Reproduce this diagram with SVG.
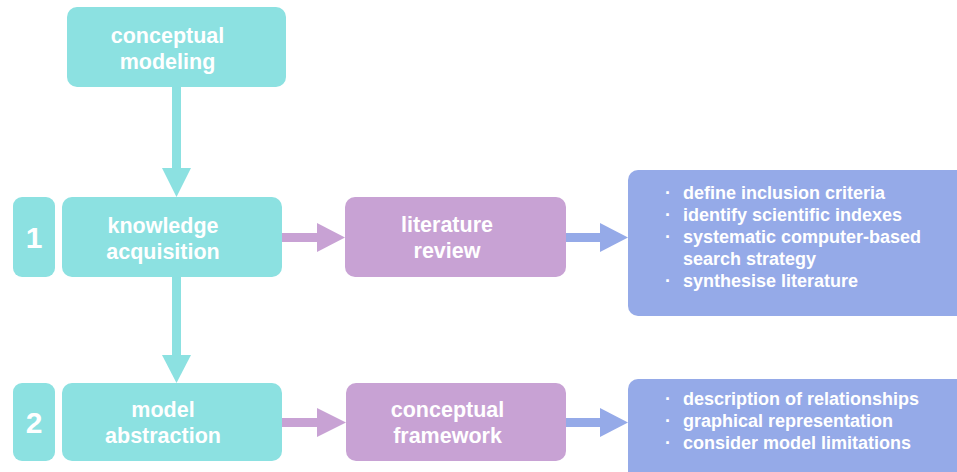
<svg xmlns="http://www.w3.org/2000/svg" width="957" height="472" viewBox="0 0 957 472">
<style>
.teal{fill:#8ce1e1}
.purp{fill:#c8a2d4}
.blue{fill:#95aae8}
.t{font-family:"Liberation Sans",Arial,sans-serif;font-weight:bold;fill:#fff;font-size:21.5px;text-anchor:middle}
.n{font-family:"Liberation Sans",Arial,sans-serif;font-weight:bold;fill:#fff;font-size:30px;text-anchor:middle}
.b{font-family:"Liberation Sans",Arial,sans-serif;font-weight:bold;fill:#fff;font-size:18px}
</style>
<rect width="957" height="472" fill="#fff"/>
<g id="connectors">
<rect class="teal" x="172" y="87" width="9" height="82"/>
<polygon class="teal" points="162,168 191,168 176.5,197"/>
<rect class="teal" x="172" y="277" width="9" height="79"/>
<polygon class="teal" points="162,355 191,355 176.5,383"/>
<rect class="purp" x="282" y="233" width="36" height="9"/>
<polygon class="purp" points="317,223 345,237.5 317,252"/>
<rect class="blue" x="566" y="233" width="35" height="9"/>
<polygon class="blue" points="600,223 628,237.5 600,252"/>
<rect class="purp" x="282" y="418" width="36" height="9"/>
<polygon class="purp" points="317,408 346,422.5 317,437"/>
<rect class="blue" x="566" y="418" width="35" height="9"/>
<polygon class="blue" points="600,408 628,422.5 600,437"/>
</g>
<g id="conceptual-modeling">
<rect class="teal" x="67" y="7" width="219" height="80" rx="10"/>
<text class="t" x="167.5" y="43">conceptual</text>
<text class="t" x="167.5" y="69">modeling</text>
</g>
<g id="step1">
<rect class="teal" x="13" y="197" width="42" height="80" rx="9"/>
<text class="n" x="34" y="248">1</text>
</g>
<g id="knowledge-acquisition">
<rect class="teal" x="62" y="197" width="220" height="80" rx="10"/>
<text class="t" x="163" y="233">knowledge</text>
<text class="t" x="163" y="259">acquisition</text>
</g>
<g id="literature-review">
<rect class="purp" x="345" y="197" width="221" height="80" rx="10"/>
<text class="t" x="447" y="232">literature</text>
<text class="t" x="447" y="258">review</text>
</g>
<g id="lit-details">
<rect class="blue" x="628" y="170" width="345" height="146" rx="10"/>
<text class="b" x="665" y="199">·</text><text class="b" x="683" y="199">define inclusion criteria</text>
<text class="b" x="665" y="221">·</text><text class="b" x="683" y="221">identify scientific indexes</text>
<text class="b" x="665" y="243">·</text><text class="b" x="683" y="243">systematic computer-based</text>
<text class="b" x="683" y="265">search strategy</text>
<text class="b" x="665" y="287">·</text><text class="b" x="683" y="287">synthesise literature</text>
</g>
<g id="step2">
<rect class="teal" x="13" y="383" width="42" height="78" rx="9"/>
<text class="n" x="34" y="433">2</text>
</g>
<g id="model-abstraction">
<rect class="teal" x="62" y="383" width="220" height="78" rx="10"/>
<text class="t" x="163" y="417">model</text>
<text class="t" x="163" y="443">abstraction</text>
</g>
<g id="conceptual-framework">
<rect class="purp" x="346" y="383" width="220" height="78" rx="10"/>
<text class="t" x="447.5" y="417">conceptual</text>
<text class="t" x="447.5" y="443">framework</text>
</g>
<g id="framework-details">
<rect class="blue" x="628" y="379" width="345" height="110" rx="10"/>
<text class="b" x="665" y="405">·</text><text class="b" x="683" y="405">description of relationships</text>
<text class="b" x="665" y="427">·</text><text class="b" x="683" y="427">graphical representation</text>
<text class="b" x="665" y="449">·</text><text class="b" x="683" y="449">consider model limitations</text>
</g>
</svg>
